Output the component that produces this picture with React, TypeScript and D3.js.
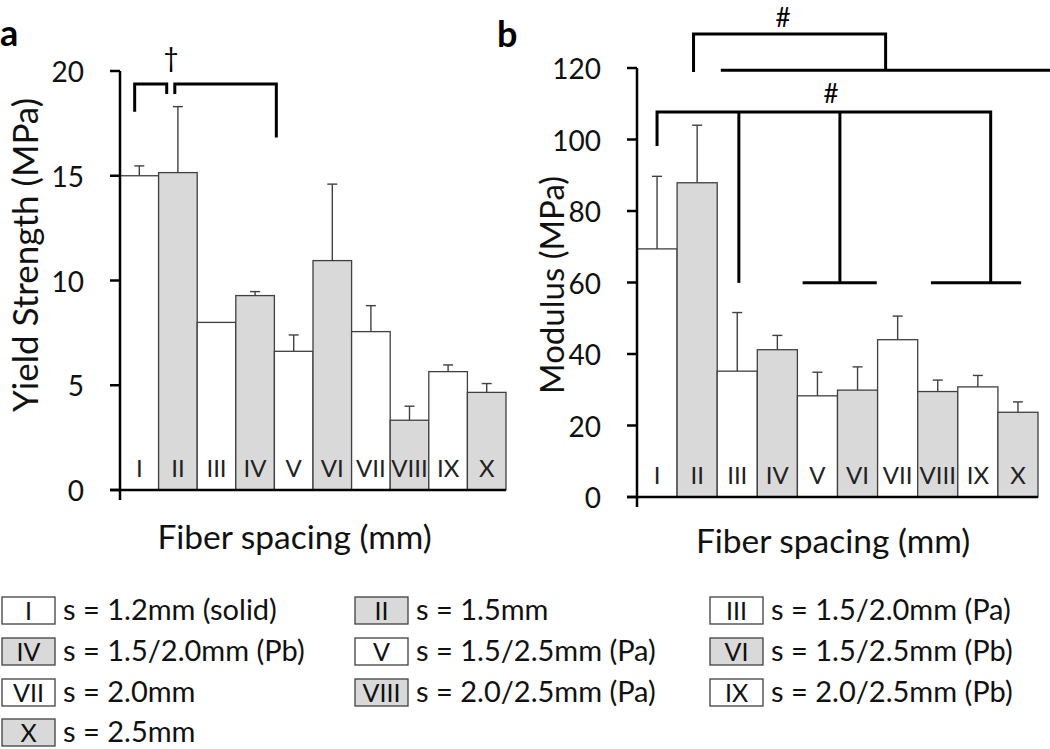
import React from 'react';
import * as d3 from 'd3';

const categories = ['I', 'II', 'III', 'IV', 'V', 'VI', 'VII', 'VIII', 'IX', 'X'];
const yieldStrength = [15.0, 15.15, 8.0, 9.28, 6.62, 10.95, 7.56, 3.33, 5.65, 4.66];
const yieldError = [0.47, 3.15, 0, 0.19, 0.78, 3.65, 1.24, 0.67, 0.32, 0.42];
const modulus = [69.4, 87.9, 35.2, 41.2, 28.3, 29.9, 44.0, 29.5, 30.8, 23.7];
const modulusError = [20.3, 16.1, 16.4, 4.0, 6.6, 6.5, 6.6, 3.2, 3.2, 2.9];
const yieldTicks = [0, 5, 10, 15, 20];
const modulusTicks = [0, 20, 40, 60, 80, 100, 120];
const legendText = [
  's = 1.2mm (solid)',
  's = 1.5mm',
  's = 1.5/2.0mm (Pa)',
  's = 1.5/2.0mm (Pb)',
  's = 1.5/2.5mm (Pa)',
  's = 1.5/2.5mm (Pb)',
  's = 2.0mm',
  's = 2.0/2.5mm (Pa)',
  's = 2.0/2.5mm (Pb)',
  's = 2.5mm',
];
// significance brackets in (bar index, value) units
const yieldBrackets: [number, number][][] = [
  [[0.38, 18.06], [0.38, 19.38], [1.21, 19.38], [1.21, 18.9]],
  [[1.42, 18.9], [1.42, 19.38], [4.05, 19.38], [4.05, 16.82]],
];
const yieldMarks = [{ i: 1.32, v: 20.68, t: '†' }];
const modulusBrackets: [number, number][][] = [
  [[1.41, 118.9], [1.41, 129.5], [6.2, 129.5], [6.2, 119.4]],
  [[2.09, 119.4], [10.4, 119.4]],
  [[0.5, 98.2], [0.5, 107.7], [8.82, 107.7], [8.82, 59.9]],
  [[2.54, 107.7], [2.54, 59.9]],
  [[5.06, 107.7], [5.06, 59.9]],
  [[4.13, 59.9], [5.98, 59.9]],
  [[7.33, 59.9], [9.58, 59.9]],
];
const modulusMarks = [
  { i: 3.64, v: 134.3, t: '#' },
  { i: 4.84, v: 113, t: '#' },
];

const FONT = 'Lato, "Open Sans", sans-serif';
const GRAY = '#d9d9d9';
const EDGE = '#404040';

type PanelProps = {
  values: number[];
  errors: number[];
  ticks: number[];
  xRange: [number, number];
  yRange: [number, number];
  brackets: [number, number][][];
  marks: { i: number; v: number; t: string }[];
  yTitle: string;
  yTitleX: number;
  yTitleY: number;
  yTitleSize: number;
  xTitleX: number;
  xTitleY: number;
  panelLabel: string;
  panelX: number;
  panelY: number;
};

function Panel(p: PanelProps) {
  const x = d3.scaleBand<string>().domain(categories).range(p.xRange).padding(0);
  const xi = d3.scaleLinear().domain([0, categories.length]).range(p.xRange);
  const y = d3
    .scaleLinear()
    .domain([0, p.ticks[p.ticks.length - 1]])
    .range(p.yRange);
  const x0 = p.xRange[0];
  const bw = x.bandwidth();
  const line = d3
    .line<[number, number]>()
    .x((d) => xi(d[0]))
    .y((d) => y(d[1]));
  return (
    <g>
      <text x={p.panelX} y={p.panelY} fontFamily={FONT} fontWeight="bold" fontSize={36}>
        {p.panelLabel}
      </text>
      {categories.map((c, i) => (
        <g key={c}>
          <rect
            x={x(c)}
            y={y(p.values[i])}
            width={bw}
            height={y(0) - y(p.values[i])}
            fill={i % 2 === 1 ? GRAY : '#ffffff'}
            stroke={EDGE}
            strokeWidth={1.3}
          />
          {p.errors[i] > 0 && (
            <g stroke={EDGE} strokeWidth={1.4}>
              <line
                x1={x(c)! + bw / 2}
                x2={x(c)! + bw / 2}
                y1={y(p.values[i])}
                y2={y(p.values[i] + p.errors[i])}
              />
              <line
                x1={x(c)! + bw / 2 - 5}
                x2={x(c)! + bw / 2 + 5}
                y1={y(p.values[i] + p.errors[i])}
                y2={y(p.values[i] + p.errors[i])}
              />
            </g>
          )}
          <text
            x={x(c)! + bw / 2}
            y={y(0) - 13}
            textAnchor="middle"
            fontFamily={FONT}
            fontSize={24}
            fill="#222"
          >
            {c}
          </text>
        </g>
      ))}
      <line x1={x0} x2={x0} y1={y(p.ticks[p.ticks.length - 1])} y2={y(0) + 10} stroke="#000" strokeWidth={2.5} />
      <line x1={x0 - 10} x2={p.xRange[1]} y1={y(0)} y2={y(0)} stroke="#000" strokeWidth={2.5} />
      {p.ticks.map((t) => (
        <g key={t}>
          <line x1={x0 - 10} x2={x0} y1={y(t)} y2={y(t)} stroke="#000" strokeWidth={2.5} />
          <text
            x={x0 - 36}
            y={y(t)}
            textAnchor="end"
            dominantBaseline="central"
            fontFamily={FONT}
            fontSize={28}
            fill="#111"
          >
            {t}
          </text>
        </g>
      ))}
      {p.brackets.map((b, k) => (
        <path key={k} d={line(b)!} fill="none" stroke="#000" strokeWidth={3} />
      ))}
      {p.marks.map((m, k) => (
        <text
          key={k}
          x={xi(m.i)}
          y={y(m.v)}
          textAnchor="middle"
          dominantBaseline="central"
          fontFamily={FONT}
          fontSize={26}
        >
          {m.t}
        </text>
      ))}
      <text
        transform={`translate(${p.yTitleX},${p.yTitleY}) rotate(-90)`}
        textAnchor="middle"
        dominantBaseline="central"
        fontFamily={FONT}
        fontSize={p.yTitleSize}
        fill="#111"
      >
        {p.yTitle}
      </text>
      <text
        x={p.xTitleX}
        y={p.xTitleY}
        textAnchor="middle"
        fontFamily={FONT}
        fontSize={33.5}
        fill="#111"
      >
        Fiber spacing (mm)
      </text>
    </g>
  );
}

function Legend() {
  const colX = [2, 355, 710];
  const rowY = [597, 638, 679, 719];
  return (
    <g>
      {categories.map((c, i) => {
        const bx = colX[i % 3];
        const by = rowY[Math.floor(i / 3)];
        return (
          <g key={c}>
            <rect
              x={bx}
              y={by}
              width={53}
              height={27}
              fill={i % 2 === 1 ? GRAY : '#ffffff'}
              stroke={EDGE}
              strokeWidth={1.3}
            />
            <text
              x={bx + 26.5}
              y={by + 23}
              textAnchor="middle"
              fontFamily={FONT}
              fontSize={25}
              fill="#111"
            >
              {c}
            </text>
            <text x={bx + 61} y={by + 23} fontFamily={FONT} fontSize={29} fill="#111">
              {legendText[i]}
            </text>
          </g>
        );
      })}
    </g>
  );
}

export default function App() {
  return (
    <svg
      width={1050}
      height={749}
      viewBox="0 0 1050 749"
      style={{ position: 'absolute', left: 0, top: 0, background: '#fff' }}
    >
      <rect width={1050} height={749} fill="#fff" />
      <Panel
        values={yieldStrength}
        errors={yieldError}
        ticks={yieldTicks}
        xRange={[120, 506]}
        yRange={[490, 71]}
        brackets={yieldBrackets}
        marks={yieldMarks}
        yTitle="Yield Strength (MPa)"
        yTitleX={24}
        yTitleY={255}
        yTitleSize={35}
        xTitleX={294.5}
        xTitleY={549}
        panelLabel="a"
        panelX={0}
        panelY={46}
      />
      <Panel
        values={modulus}
        errors={modulusError}
        ticks={modulusTicks}
        xRange={[637, 1038]}
        yRange={[497, 68]}
        brackets={modulusBrackets}
        marks={modulusMarks}
        yTitle="Modulus (MPa)"
        yTitleX={551}
        yTitleY={285}
        yTitleSize={33}
        xTitleX={833}
        xTitleY={553}
        panelLabel="b"
        panelX={497}
        panelY={47}
      />
      <Legend />
    </svg>
  );
}
